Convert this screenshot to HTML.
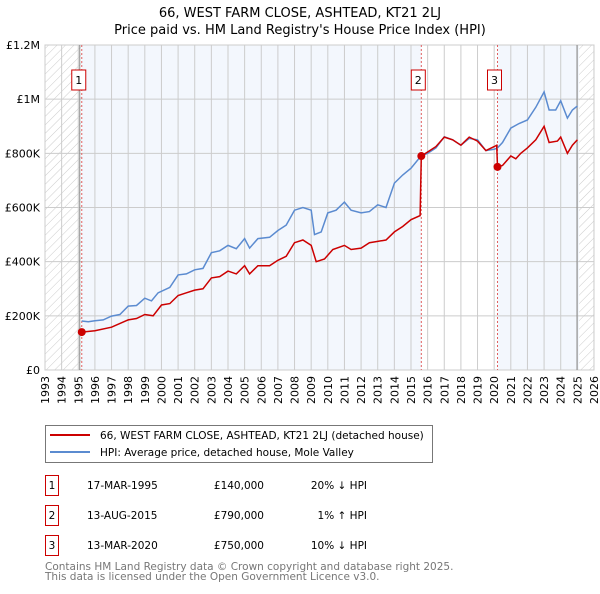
<!DOCTYPE html>
<html><head><meta charset="utf-8"><style>
body{margin:0;background:#fff;font-family:"DejaVu Sans","Liberation Sans",sans-serif;}
svg text{font-family:"DejaVu Sans","Liberation Sans",sans-serif;}
</style></head><body>
<svg id="chart" width="600" height="590" viewBox="0 0 600 590" xmlns="http://www.w3.org/2000/svg">
<defs><pattern id="hatch" patternUnits="userSpaceOnUse" width="6" height="6" patternTransform="rotate(45)"><line x1="0" y1="0" x2="0" y2="6" stroke="#ccc" stroke-width="1"/></pattern></defs>
<text x="300" y="17" text-anchor="middle" font-size="13" fill="#000">66, WEST FARM CLOSE, ASHTEAD, KT21 2LJ</text>
<text x="300" y="34" text-anchor="middle" font-size="13" fill="#000">Price paid vs. HM Land Registry's House Price Index (HPI)</text>
<g id="plot"></g>
<g>
<rect x="45.5" y="425.5" width="387" height="37" fill="#fff" stroke="#777"/>
<line x1="50" y1="435" x2="90" y2="435" stroke="#cc0000" stroke-width="2"/>
<text x="100" y="439" font-size="10.5">66, WEST FARM CLOSE, ASHTEAD, KT21 2LJ (detached house)</text>
<line x1="50" y1="452" x2="90" y2="452" stroke="#5b8bd0" stroke-width="2"/>
<text x="100" y="456" font-size="10.5">HPI: Average price, detached house, Mole Valley</text>
</g>
<g font-size="10.5">
<rect x="45.5" y="475.5" width="13" height="20" fill="#fff" stroke="#cc0000"/><text x="52" y="489" text-anchor="middle">1</text>
<text x="87" y="489">17-MAR-1995</text><text x="264" y="489" text-anchor="end">£140,000</text><text x="367" y="489" text-anchor="end">20% ↓ HPI</text>
<rect x="45.5" y="505.5" width="13" height="20" fill="#fff" stroke="#cc0000"/><text x="52" y="519" text-anchor="middle">2</text>
<text x="87" y="519">13-AUG-2015</text><text x="264" y="519" text-anchor="end">£790,000</text><text x="367" y="519" text-anchor="end">1% ↑ HPI</text>
<rect x="45.5" y="535.5" width="13" height="20" fill="#fff" stroke="#cc0000"/><text x="52" y="549" text-anchor="middle">3</text>
<text x="87" y="549">13-MAR-2020</text><text x="264" y="549" text-anchor="end">£750,000</text><text x="367" y="549" text-anchor="end">10% ↓ HPI</text>
</g>
<text x="45" y="570" font-size="10.5" fill="#777">Contains HM Land Registry data © Crown copyright and database right 2025.</text>
<text x="45" y="580" font-size="10.5" fill="#777">This data is licensed under the Open Government Licence v3.0.</text>
</svg>
<script>
const hpiYears=[1995.2,1995.6,1996,1996.5,1997,1997.5,1998,1998.5,1999,1999.4,1999.8,2000.5,2001,2001.5,2002,2002.5,2003,2003.5,2004,2004.5,2005,2005.3,2005.8,2006.5,2007,2007.5,2008,2008.5,2009,2009.2,2009.6,2010,2010.5,2011,2011.4,2012,2012.5,2013,2013.5,2014,2014.5,2015,2015.6,2016,2016.5,2017,2017.5,2018,2018.5,2019,2019.5,2020,2020.2,2020.5,2021,2021.5,2022,2022.5,2023,2023.3,2023.7,2024,2024.4,2024.7,2025];
const hpiValues=[181,178,182,185,199,205,236,238,265,255,285,305,351,355,370,375,433,440,460,448,485,450,485,490,515,535,590,600,590,500,510,580,590,620,590,580,585,610,600,690,720,745,790,800,820,861,850,830,855,850,810,815,820,840,893,910,923,970,1027,960,960,994,930,960,975];
const redYears=[1995.2,1996,1997,1998,1998.5,1999,1999.5,2000,2000.5,2001,2001.5,2002,2002.5,2003,2003.5,2004,2004.5,2005,2005.3,2005.8,2006.5,2007,2007.5,2008,2008.5,2009,2009.3,2009.8,2010.3,2011,2011.4,2012,2012.5,2013,2013.5,2014,2014.5,2015,2015.55,2015.62,2016,2016.5,2017,2017.5,2018,2018.5,2019,2019.5,2020,2020.15,2020.2,2020.5,2021,2021.3,2021.6,2022,2022.5,2023,2023.3,2023.8,2024,2024.4,2024.7,2025];
const redValues=[140,145,158,185,190,205,200,240,245,275,285,295,300,340,345,365,355,385,355,385,385,405,420,470,480,460,400,410,445,460,445,450,470,475,480,510,530,555,570,790,805,825,860,850,830,860,845,810,825,830,750,755,790,780,800,820,850,900,840,845,860,800,830,850];
const saleYears=[2015.62,1995.21,2020.2];
const saleValues=[790,140,750];
const saleLabels=["2","1","3"];
const yTicks=[0,200,400,600,800,1000,1200];
const yTickLabels=["£0","£200K","£400K","£600K","£800K","£1M","£1.2M"];
const xTicks=[1993,1994,1995,1996,1997,1998,1999,2000,2001,2002,2003,2004,2005,2006,2007,2008,2009,2010,2011,2012,2013,2014,2015,2016,2017,2018,2019,2020,2021,2022,2023,2024,2025,2026];

const X=y=>45+(y-1993)*16.636;
const Y=v=>370-v/1200*325;
const NS="http://www.w3.org/2000/svg";
const plot=document.getElementById('plot');
function mk(tag,attrs,parent){const e=document.createElementNS(NS,tag);for(const k in attrs)e.setAttribute(k,attrs[k]);(parent||plot).appendChild(e);return e;}
const pTop=Y(1200),pBot=Y(0);
const s1=X(saleYears[1]),s2=X(saleYears[0]),s3=X(saleYears[2]),pEnd=X(2025.1);
let r=mk('rect',{x:X(1993),y:pTop,width:X(2026)-X(1993),height:pBot-pTop,fill:'#fff'});


r=mk('rect',{x:X(1993),y:pTop,width:s1-X(1993),height:pBot-pTop,fill:'url(#hatch)'});


r=mk('rect',{x:pEnd,y:pTop,width:X(2026)-pEnd,height:pBot-pTop,fill:'url(#hatch)'});


r=mk('rect',{x:s1,y:pTop,width:s2-s1,height:pBot-pTop,fill:'#eef3fc',opacity:0.7});


r=mk('rect',{x:s3,y:pTop,width:pEnd-s3,height:pBot-pTop,fill:'#eef3fc',opacity:0.7});


xTicks.forEach(t=>{
  const l=mk('line',{x1:X(t),x2:X(t),y1:pTop,y2:pBot,stroke:'#ccc','stroke-width':1});
  
  
  const tx=mk('text',{x:0,y:0,'font-size':11,'text-anchor':'end',transform:`translate(${X(t)+4},${pBot+6}) rotate(-90)`});
  tx.textContent=t;
  
  
});
yTicks.forEach((t,i)=>{
  const l=mk('line',{x1:X(1993),x2:X(2026),y1:Y(t),y2:Y(t),stroke:'#ccc','stroke-width':1});
  
  
  const tx=mk('text',{x:40,y:Y(t)+4,'font-size':11,'text-anchor':'end'});
  tx.textContent=yTickLabels[i];
  
  
});
r=mk('rect',{x:X(1993),y:pTop,width:X(2026)-X(1993),height:pBot-pTop,fill:'none',stroke:'#ccc'});


[s1,pEnd].forEach(x=>{
  const l=mk('line',{x1:x-2,x2:x-2,y1:pTop,y2:pBot,stroke:'#888','stroke-width':1});
  
  
});
saleYears.forEach((y,i)=>{
  const l=mk('line',{x1:X(y),x2:X(y),y1:pTop,y2:pBot,stroke:'#e06060','stroke-width':1,'stroke-dasharray':'2,2'});
  
  
  const b=mk('rect',{x:X(y)-10,y:70,width:14,height:20,fill:'#fff',stroke:'#cc0000'});
  
  
  const t=mk('text',{x:X(y)-3,y:84,'font-size':11,'text-anchor':'middle'});
  t.textContent=saleLabels[i];
  
  
});
let p=mk('path',{d:hpiYears.map((y,i)=>(i?'L':'M')+X(y).toFixed(1)+','+Y(hpiValues[i]).toFixed(1)).join(''),fill:'none',stroke:'#5b8bd0','stroke-width':1.5});


p=mk('path',{d:redYears.map((y,i)=>(i?'L':'M')+X(y).toFixed(1)+','+Y(redValues[i]).toFixed(1)).join(''),fill:'none',stroke:'#cc0000','stroke-width':1.5});


saleYears.forEach((y,i)=>{
  const c=mk('circle',{cx:X(y),cy:Y(saleValues[i]),r:4,fill:'#cc0000'});
  
  
});
</script>
</body></html>
